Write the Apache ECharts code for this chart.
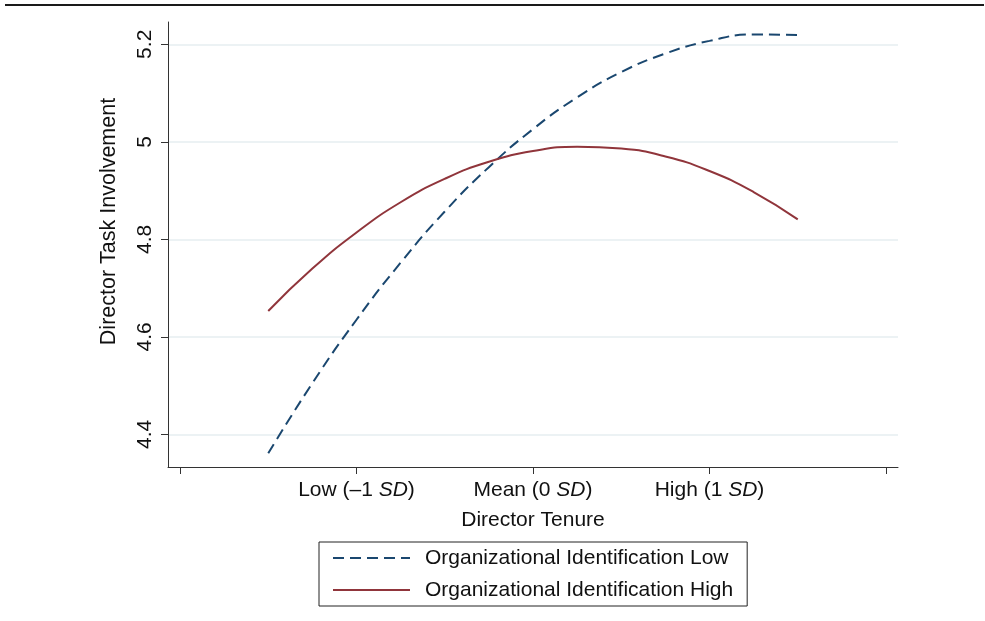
<!DOCTYPE html>
<html>
<head>
<meta charset="utf-8">
<script src="https://cdn.jsdelivr.net/npm/echarts@6/dist/echarts.min.js"></script>
<style>
html,body{margin:0;padding:0;background:#fff;}
#chart{width:985px;height:621px;}
</style>
</head>
<body>
<div id="chart"></div>
<script>
// Director tenure in SD units
var tenureSD = [-1.5, -1.25, -1.0, -0.75, -0.5, -0.25, 0, 0.25, 0.5, 0.75, 1.0, 1.25, 1.5];
// Organizational Identification Low
var lowValues = [4.361, 4.505, 4.635, 4.752, 4.857, 4.948, 5.026, 5.091, 5.143, 5.181, 5.207, 5.220, 5.219];
// Organizational Identification High
var highValues = [4.653, 4.740, 4.814, 4.876, 4.924, 4.959, 4.981, 4.990, 4.986, 4.970, 4.940, 4.897, 4.841];
var xTicks = [-2, -1, 0, 1, 2];
var xTickLabels = {'-1': ['Low (\u20131 ', 'SD', ')'], '0': ['Mean (0 ', 'SD', ')'], '1': ['High (1 ', 'SD', ')']};
var yTicks = [4.4, 4.6, 4.8, 5.0, 5.2];
var seriesNames = ['Organizational Identification Low', 'Organizational Identification High'];

var FONT = 'Liberation Sans, Arial, Helvetica, sans-serif';
function zip(xs, ys){ return xs.map(function(x,i){ return [x, ys[i]]; }); }

var chart = echarts.init(document.getElementById('chart'), null, {renderer:'canvas'});
chart.setOption({
  animation: false,
  backgroundColor: '#ffffff',
  textStyle: {fontFamily: FONT},
  grid: {left: 168, right: 87, top: 22, bottom: 154, containLabel: false},
  graphic: [{
    type: 'line', silent: true,
    shape: {x1: 5, y1: 5, x2: 984, y2: 5},
    style: {stroke: '#1a1a1a', lineWidth: 2}
  }],
  legend: {
    orient: 'vertical',
    left: 319, top: 542,
    data: seriesNames,
    itemWidth: 77, itemHeight: 14,
    itemGap: 10,
    padding: [5, 14, 5, 13],
    borderColor: '#222', borderWidth: 1,
    itemStyle: {opacity: 0},
    textStyle: {fontFamily: FONT, fontSize: 21, color: '#111', lineHeight: 22, padding: [0, 0, 0, 10]}
  },
  xAxis: {
    type: 'value',
    min: -2.068, max: 2.068,
    name: 'Director Tenure',
    nameLocation: 'middle',
    nameGap: 43,
    nameTextStyle: {fontFamily: FONT, fontSize: 21, color: '#111'},
    axisLine: {show: true, onZero: false, lineStyle: {color: '#333', width: 1}},
    axisTick: {show: true, customValues: xTicks, length: 7, lineStyle: {color: '#333'}},
    axisLabel: {
      customValues: [-1, 0, 1],
      margin: 13,
      fontFamily: FONT, fontSize: 21, color: '#111',
      formatter: function(v){
        var p = xTickLabels[String(Math.round(v))];
        if (!p) return '';
        return '{n|' + p[0] + '}{i|' + p[1] + '}{n|' + p[2] + '}';
      },
      rich: {
        n: {fontFamily: FONT, fontSize: 21, color: '#111'},
        i: {fontFamily: FONT, fontSize: 21, color: '#111', fontStyle: 'italic'}
      }
    },
    splitLine: {show: false}
  },
  yAxis: {
    type: 'value',
    min: 4.333, max: 5.2457,
    name: 'Director Task Involvement',
    nameLocation: 'middle',
    nameGap: 48,
    nameTextStyle: {fontFamily: FONT, fontSize: 21.5, color: '#111', padding: [0, 0, 0, 46]},
    axisLine: {show: true, onZero: false, lineStyle: {color: '#333', width: 1}},
    axisTick: {show: true, customValues: yTicks, length: 7, lineStyle: {color: '#333'}},
    axisLabel: {
      customValues: yTicks,
      rotate: 90,
      margin: 12,
      fontFamily: FONT, fontSize: 21, color: '#111',
      formatter: function(v){ return String(Math.round(v*10)/10); }
    },
    splitLine: {show: true, lineStyle: {color: '#e6eef1', width: 1.5}}
  },
  series: [{
    name: seriesNames[0],
    type: 'line',
    data: zip(tenureSD, lowValues),
    smooth: true,
    symbol: 'none',
    lineStyle: {color: '#1a476f', width: 2, type: [11, 6]},
    itemStyle: {color: '#1a476f'}
  }, {
    name: seriesNames[1],
    type: 'line',
    data: zip(tenureSD, highValues),
    smooth: true,
    symbol: 'none',
    lineStyle: {color: '#90353b', width: 2, type: 'solid'},
    itemStyle: {color: '#90353b'}
  }]
});
</script>
</body>
</html>
